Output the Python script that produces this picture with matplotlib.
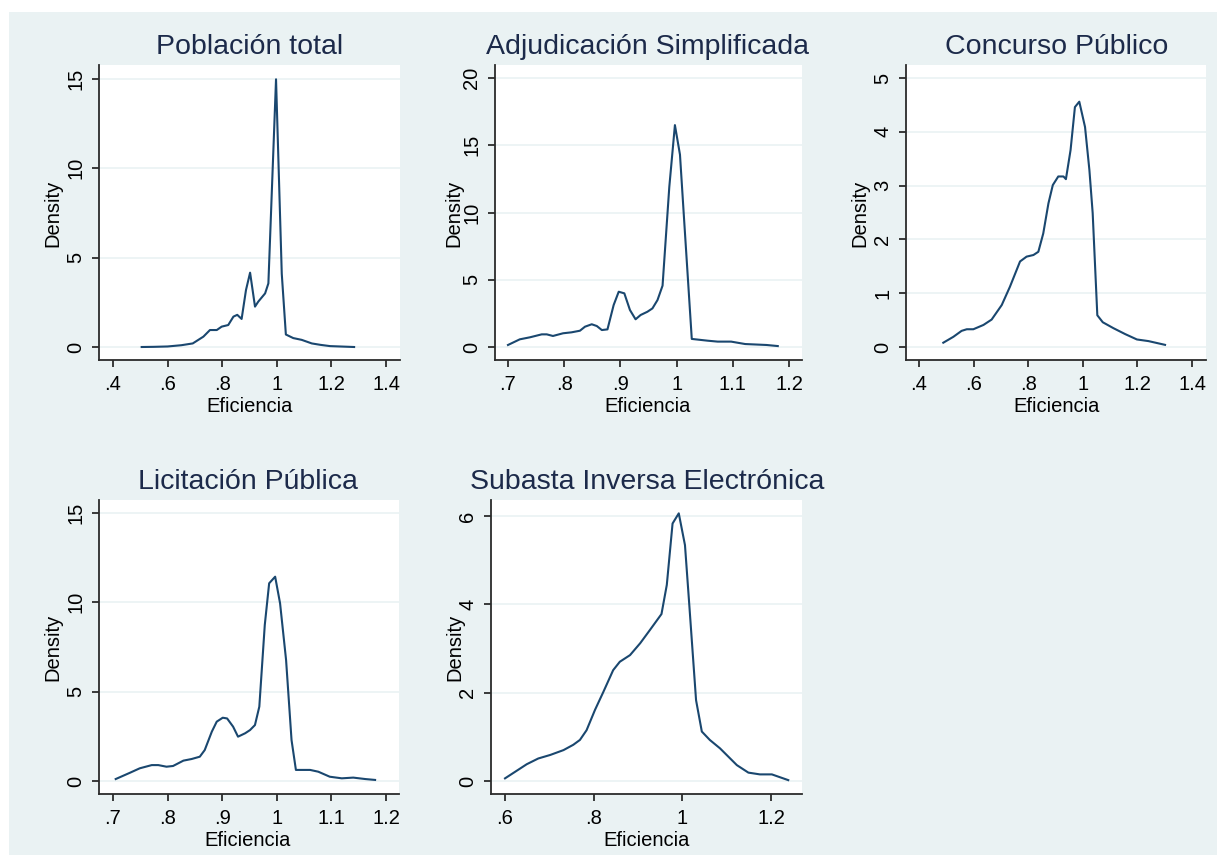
import numpy as np
import matplotlib
matplotlib.use("Agg")
import matplotlib.pyplot as plt
from matplotlib.patches import Rectangle

plt.rcParams["font.family"] = ["Liberation Sans", "DejaVu Sans"]

W, H = 1217, 855
BG = "#eaf2f3"
LINE = "#1a476f"
TITLE_C = "#1c2a4a"

# ---------------------------------------------------------------
# data (kernel density of "Eficiencia")
# ---------------------------------------------------------------
titles = ["Población total", "Adjudicación Simplificada", "Concurso Público",
          "Licitación Pública", "Subasta Inversa Electrónica"]

pob_x = [0.505, 0.55, 0.60, 0.65, 0.692, 0.731, 0.755, 0.78, 0.798, 0.822,
         0.841, 0.855, 0.871, 0.887, 0.902, 0.92, 0.932, 0.957, 0.969, 0.997,
         1.018, 1.033, 1.06, 1.091, 1.128, 1.16, 1.195, 1.283]
pob_y = [0.0, 0.01, 0.03, 0.1, 0.2, 0.58, 0.95, 0.95, 1.14, 1.23,
         1.7, 1.8, 1.57, 3.19, 4.16, 2.26, 2.54, 3.0, 3.56, 14.98,
         4.1, 0.7, 0.5, 0.4, 0.2, 0.12, 0.05, 0.0]

adj_x = [0.70, 0.721, 0.739, 0.76, 0.769, 0.78, 0.798, 0.813, 0.828, 0.837,
         0.849, 0.858, 0.867, 0.877, 0.888, 0.897, 0.907, 0.917, 0.927, 0.936,
         0.948, 0.957, 0.966, 0.975, 0.987, 0.997, 1.006, 1.013, 1.027, 1.055,
         1.073, 1.097, 1.122, 1.16, 1.18]
adj_y = [0.15, 0.57, 0.72, 0.94, 0.94, 0.82, 1.02, 1.09, 1.21, 1.51,
         1.69, 1.56, 1.26, 1.31, 3.12, 4.11, 3.99, 2.75, 2.06, 2.38,
         2.62, 2.87, 3.49, 4.56, 11.9, 16.5, 14.3, 9.7, 0.6, 0.47,
         0.4, 0.4, 0.22, 0.15, 0.07]

con_x = [0.489, 0.526, 0.556, 0.575, 0.599, 0.636, 0.666, 0.703, 0.733, 0.770,
         0.794, 0.819, 0.837, 0.855, 0.874, 0.89, 0.91, 0.929, 0.938, 0.955,
         0.971, 0.987, 1.008, 1.024, 1.036, 1.053, 1.073, 1.112, 1.155, 1.198,
         1.24, 1.301]
con_y = [0.08, 0.19, 0.30, 0.33, 0.33, 0.41, 0.51, 0.78, 1.12, 1.59,
         1.68, 1.71, 1.77, 2.11, 2.67, 3.01, 3.17, 3.17, 3.12, 3.66,
         4.46, 4.56, 4.09, 3.29, 2.49, 0.59, 0.46, 0.35, 0.24, 0.14,
         0.11, 0.04]

lic_x = [0.705, 0.731, 0.749, 0.771, 0.783, 0.798, 0.810, 0.829, 0.844, 0.859,
         0.868, 0.881, 0.890, 0.901, 0.909, 0.920, 0.929, 0.942, 0.951, 0.960,
         0.968, 0.978, 0.986, 0.997, 1.006, 1.017, 1.027, 1.035, 1.061, 1.076,
         1.097, 1.119, 1.140, 1.162, 1.180]
lic_y = [0.11, 0.46, 0.71, 0.89, 0.89, 0.80, 0.84, 1.14, 1.23, 1.36,
         1.73, 2.76, 3.32, 3.54, 3.5, 3.04, 2.48, 2.67, 2.85, 3.13,
         4.16, 8.73, 11.06, 11.43, 9.94, 6.77, 2.29, 0.62, 0.62, 0.52,
         0.24, 0.15, 0.19, 0.11, 0.06]

sub_x = [0.60, 0.623, 0.649, 0.675, 0.702, 0.732, 0.754, 0.769, 0.784, 0.803,
         0.822, 0.844, 0.859, 0.882, 0.905, 0.927, 0.953, 0.965, 0.978, 0.992,
         1.006, 1.016, 1.031, 1.044, 1.062, 1.085, 1.104, 1.123, 1.149, 1.175,
         1.202, 1.239]
sub_y = [0.06, 0.21, 0.38, 0.51, 0.59, 0.70, 0.82, 0.93, 1.15, 1.61,
         2.02, 2.51, 2.70, 2.85, 3.12, 3.42, 3.78, 4.44, 5.83, 6.06,
         5.34, 3.95, 1.83, 1.12, 0.93, 0.74, 0.55, 0.36, 0.19, 0.15,
         0.15, 0.02]

series = [(pob_x, pob_y), (adj_x, adj_y), (con_x, con_y), (lic_x, lic_y), (sub_x, sub_y)]

xticks = [[0.4, 0.6, 0.8, 1.0, 1.2, 1.4],
          [0.7, 0.8, 0.9, 1.0, 1.1, 1.2],
          [0.4, 0.6, 0.8, 1.0, 1.2, 1.4],
          [0.7, 0.8, 0.9, 1.0, 1.1, 1.2],
          [0.6, 0.8, 1.0, 1.2]]
xlabels = [[".4", ".6", ".8", "1", "1.2", "1.4"],
           [".7", ".8", ".9", "1", "1.1", "1.2"],
           [".4", ".6", ".8", "1", "1.2", "1.4"],
           [".7", ".8", ".9", "1", "1.1", "1.2"],
           [".6", ".8", "1", "1.2"]]
yticks = [[0, 5, 10, 15], [0, 5, 10, 15, 20], [0, 1, 2, 3, 4, 5],
          [0, 5, 10, 15], [0, 2, 4, 6]]

# layout (pixels): plot box, axis limits, title / label anchors
boxes = [(99, 65, 400, 360), (495, 65, 802, 360), (906, 65, 1206, 360),
         (99, 500, 399, 794), (491, 500, 802, 794)]
xlims = [(0.3487, 1.451), (0.6769, 1.2231), (0.3524, 1.451), (0.6744, 1.2238), (0.5684, 1.270)]
ylims = [(-0.727, 15.78), (-0.967, 20.97), (-0.2416, 5.242), (-0.727, 15.72), (-0.294, 6.362)]
title_pos = [(250, 47), (648, 47), (1057, 47), (248, 482), (647, 482)]
ylab_pos = [(53, 213), (454, 213), (860, 213), (53, 647), (455, 647)]
xlab_pos = [(250, 406), (648, 406), (1057, 406), (248, 840), (647, 840)]

fig = plt.figure(figsize=(W / 100, H / 100), dpi=100)
fig.patch.set_facecolor("white")
fig.add_artist(Rectangle((9 / W, 0), 1 - 9 / W, 1 - 12 / H, transform=fig.transFigure,
                         facecolor=BG, edgecolor="none", zorder=0))

for i in range(5):
    x0, y0, x1, y1 = boxes[i]
    ax = fig.add_axes([x0 / W, 1 - y1 / H, (x1 - x0) / W, (y1 - y0) / H])
    ax.set_facecolor("white")
    ax.plot(series[i][0], series[i][1], color=LINE, lw=1.5, zorder=3)
    ax.set_xlim(*xlims[i])
    ax.set_ylim(*ylims[i])
    ax.set_xticks(xticks[i])
    ax.set_xticklabels(xlabels[i])
    ax.set_yticks(yticks[i])
    ax.set_yticklabels([str(v) for v in yticks[i]], rotation=90, va="center")
    for yv in yticks[i]:
        ax.axhline(yv, color=BG, lw=1.2, zorder=1)
    for s in ["top", "right"]:
        ax.spines[s].set_visible(False)
    for s in ["left", "bottom"]:
        ax.spines[s].set_color("#2b2b2b")
        ax.spines[s].set_linewidth(1.3)
    ax.tick_params(axis="both", length=5, width=1.3, color="#2b2b2b",
                   labelsize=14.5, labelcolor="black")
    ax.tick_params(axis="x", pad=6)
    ax.tick_params(axis="y", pad=5)

    tx, ty = title_pos[i]
    fig.text(tx / W, 1 - ty / H, titles[i], ha="center", va="center",
             fontsize=20.5, color=TITLE_C)
    lx, ly = ylab_pos[i]
    fig.text(lx / W, 1 - ly / H, "Density", ha="center", va="center",
             rotation=90, fontsize=14.5, color="black")
    ex, ey = xlab_pos[i]
    fig.text(ex / W, 1 - ey / H, "Eficiencia", ha="center", va="center",
             fontsize=14.5, color="black")

fig.savefig("out.png", dpi=100)
